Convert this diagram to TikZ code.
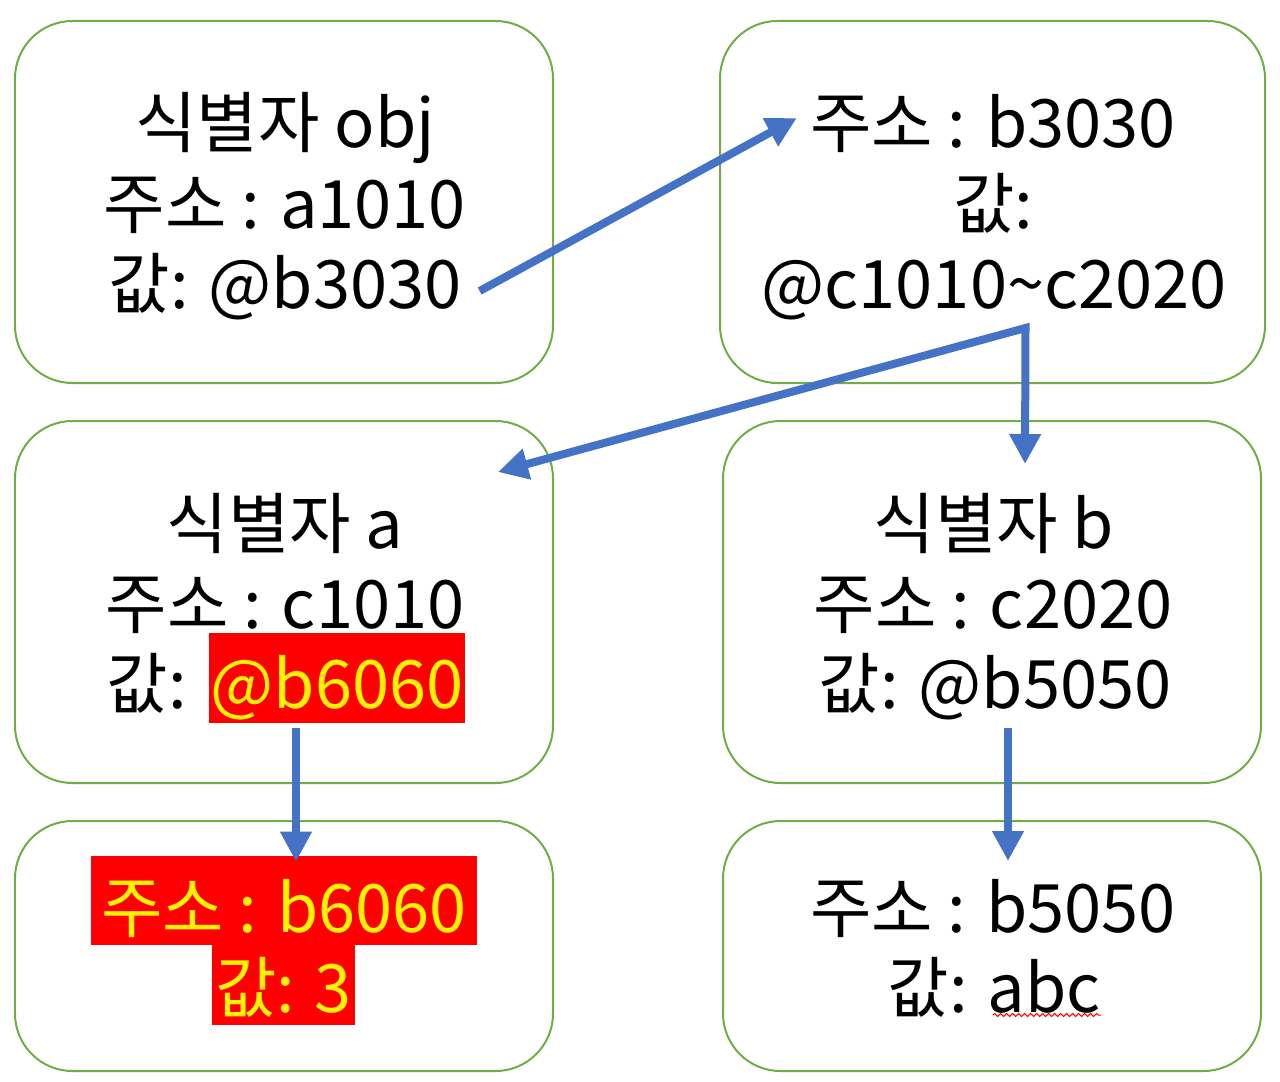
\documentclass[tikz,border=0pt]{standalone}
\usepackage{fontspec}
\setmainfont{Noto Sans CJK KR}
\usetikzlibrary{arrows.meta,decorations.pathmorphing}
\definecolor{boxgreen}{HTML}{70AD47}
\definecolor{ptrblue}{HTML}{4472C4}

\begin{document}
\begin{tikzpicture}[x=0.02cm, y=-0.02cm]
    \tikzset{cell/.style={rectangle, draw=boxgreen, line width=0.04cm, rounded corners=1.15cm}}
    \tikzset{txt/.style={anchor=base, inner sep=0pt, text height=1.5cm, text depth=0.3cm, font=\fontsize{38}{45}\selectfont}}
    \tikzset{hl/.style={fill=red, text=yellow}}
    \tikzset{ptr/.style={draw=ptrblue, line width=0.16cm, >={Triangle[length=0.6cm, width=0.6cm]}, ->}}

    \useasboundingbox (0,0) rectangle (1280,1081);

    % ── MEMORY CELLS ─────────────────────────────────────
    \foreach \nm/\cx/\cy/\w/\h in {objbox/284/202/538/362, b3box/992.5/202/545/362,
                                  abox/284/602/538/362, bbox/992/602/538/362,
                                  b6box/284/946/538/250, b5box/992/946/538/250} {
        \node[cell, minimum width=\w*0.02cm, minimum height=\h*0.02cm] (\nm) at (\cx,\cy) {};
    }

    % ── obj ──────────────────────────────────────────────
    \node[txt] (objid)   at (285,148) {식별자 obj};
    \node[txt] (objaddr) at (285,228) {주소 : a1010};
    \node[txt] (objval)  at (285,308) {값: @b3030};

    % ── b3030 ────────────────────────────────────────────
    \node[txt] (b3addr) at (993,148) {주소 : b3030};
    \node[txt] (b3lbl)  at (993,228) {값:};
    \node[txt] (b3val)  at (994,308) {@c1010\textasciitilde c2020};

    % ── a ────────────────────────────────────────────────
    \node[txt] (aid)   at (285,548) {식별자 a};
    \node[txt] (aaddr) at (285,628) {주소 : c1010};
    \node[txt, hl, minimum width=5.12cm] (aval) at (337,708) {@b6060};
    \node[txt, anchor=base east] (albl) at (187,708) {값:};

    % ── b ────────────────────────────────────────────────
    \node[txt] (bid)   at (994,548) {식별자 b};
    \node[txt] (baddr) at (993,628) {주소 : c2020};
    \node[txt] (bval)  at (995,708) {값: @b5050};

    % ── b6060 (강조) ─────────────────────────────────────
    \node[txt, hl, minimum width=7.72cm, text height=1.52cm, text depth=0.26cm] (b6addr) at (284,932) {주소 : b6060};
    \node[txt, hl, minimum width=2.86cm, text height=1.34cm, text depth=0.26cm] (b6val) at (283.5,1012) {값: 3};

    % ── b5050 ────────────────────────────────────────────
    \node[txt] (b5addr) at (993,932) {주소 : b5050};
    \node[txt] (b5val)  at (994,1012) {값: abc};
    \draw[red, line width=0.02cm, decorate, decoration={snake, amplitude=0.03cm, segment length=0.12cm}]
        ([shift={(-108,3)}]b5val.base east) -- ([shift={(0,3)}]b5val.base east);

    % ── POINTERS ─────────────────────────────────────────
    \draw[ptr] ([shift={(18,13)}]objval.east) -- ([shift={(-13,0)}]b3addr.west);

    \coordinate (fork) at ([shift={(33,-56)}]b3box.south);
    \draw[ptr, <->] ([shift={(-56,52)}]abox.north east) -- (fork) -- ([shift={(33,44)}]bbox.north);

    \draw[ptr] ([shift={(-41,5)}]aval.south) -- ([shift={(12,6)}]b6addr.north);
    \draw[ptr] ([shift={(16,-56)}]bbox.south) -- ([shift={(16,41)}]b5box.north);

\end{tikzpicture}
\end{document}
